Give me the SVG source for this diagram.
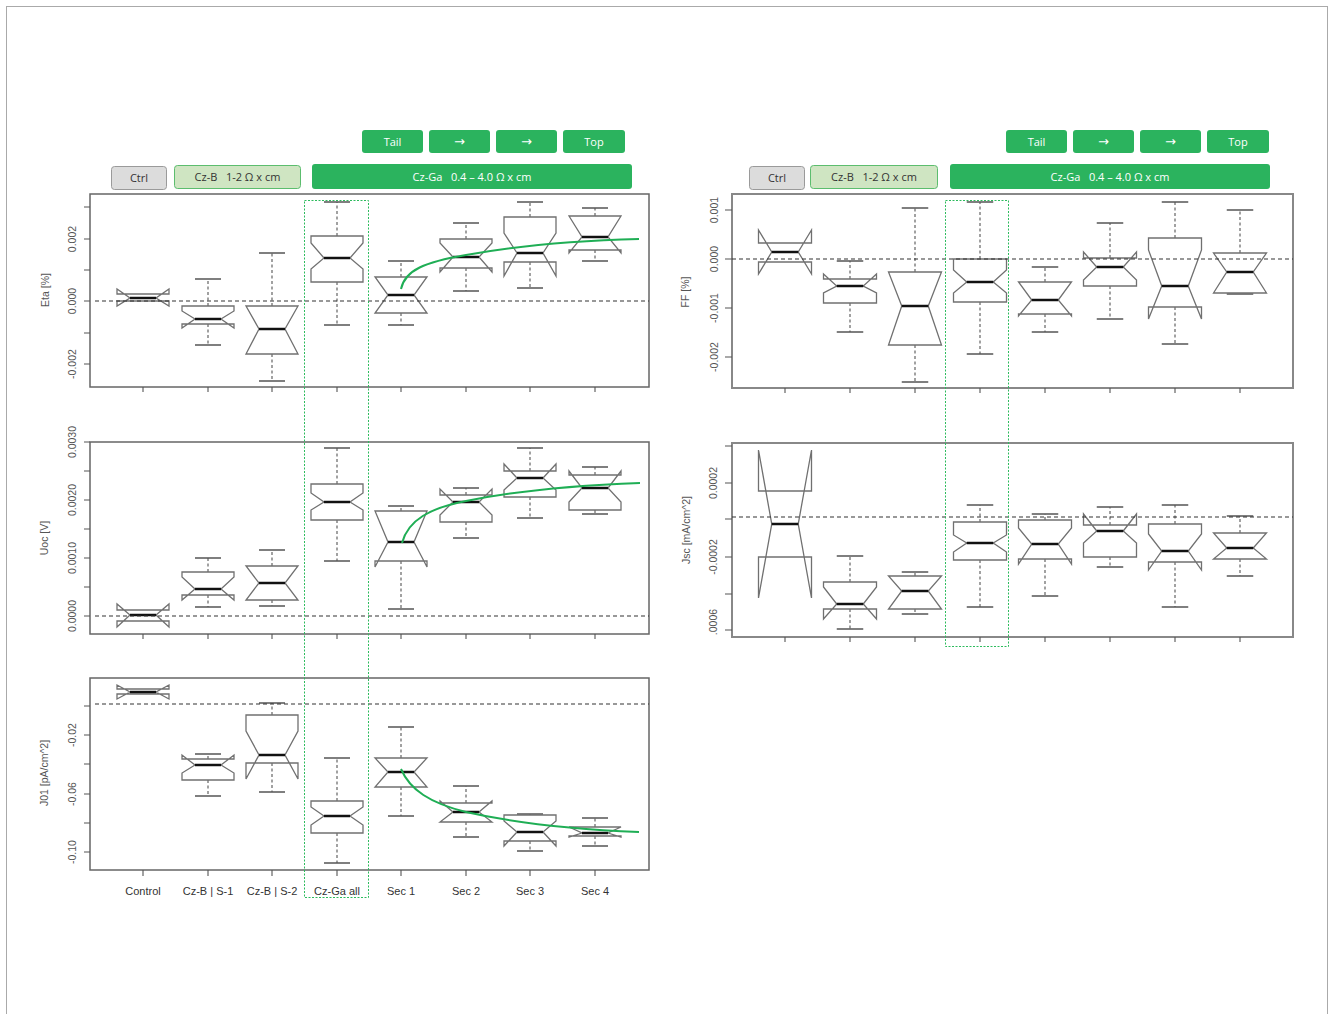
<svg xmlns="http://www.w3.org/2000/svg" width="1329" height="1014" viewBox="0 0 1329 1014">
<style>
.page{fill:#fff;stroke:#aaa;stroke-width:1}
.frame{fill:none;stroke:#666;stroke-width:1.5}
.frameR{fill:none;stroke:#888;stroke-width:2}
.box{fill:#fff;stroke:#707070;stroke-width:1.3}
.med{stroke:#111;stroke-width:2.5}
.wh{stroke:#555;stroke-width:1.1;stroke-dasharray:3 2.5;fill:none}
.cap{stroke:#555;stroke-width:1.3;fill:none}
.zero{stroke:#333;stroke-width:1.1;stroke-dasharray:4 3}
.tick{stroke:#555;stroke-width:1.1;fill:none}
.tl{font-family:"Liberation Sans",Arial,sans-serif;font-size:10.5px;fill:#555;text-anchor:middle}
.al{font-family:"Liberation Sans",Arial,sans-serif;font-size:10.5px;fill:#555;text-anchor:middle}
.xl{font-family:"Liberation Sans",Arial,sans-serif;font-size:11px;fill:#333;text-anchor:middle}
.trend{fill:none;stroke:#1fae55;stroke-width:2}
.hl{fill:none;stroke:#2dbb5d;stroke-width:1;stroke-dasharray:2 1.5}
.btn{fill:#2bb35e}
.ctrl{fill:#dcdcdc;stroke:#9a9a9a;stroke-width:1}
.czb{fill:#cfe5c2;stroke:#5cbd6e;stroke-width:1}
.bt{font-family:"Open Sans","Noto Sans",sans-serif;font-size:11px;fill:#fff;text-anchor:middle;white-space:pre}
.ar{font-family:"DejaVu Sans",sans-serif;font-size:13px;fill:#fff;text-anchor:middle}
.bd{font-family:"Open Sans","Noto Sans",sans-serif;font-size:11px;fill:#333;text-anchor:middle;white-space:pre}
</style>
<rect class="page" x="6.5" y="6.5" width="1321" height="1030"/>

<!-- headers -->
<g id="header-left">
<rect class="btn" x="362" y="130" width="61" height="23" rx="3"/><text class="bt" x="392.5" y="145.5">Tail</text>
<rect class="btn" x="429" y="130" width="61" height="23" rx="3"/><text class="ar" x="459.5" y="146">→</text>
<rect class="btn" x="496" y="130" width="61" height="23" rx="3"/><text class="ar" x="526.5" y="146">→</text>
<rect class="btn" x="563" y="130" width="62" height="23" rx="3"/><text class="bt" x="594" y="145.5">Top</text>
<rect class="ctrl" x="111.5" y="166.5" width="55" height="23" rx="3"/><text class="bd" x="139" y="182">Ctrl</text>
<rect class="czb" x="174.5" y="165.5" width="126" height="23" rx="3"/><text class="bd" x="237.5" y="181">Cz-B   1-2 Ω x cm</text>
<rect class="btn" x="312" y="164" width="320" height="25" rx="3"/><text class="bt" x="472" y="180.5">Cz-Ga   0.4 – 4.0 Ω x cm</text>
</g>
<g id="header-right">
<rect class="btn" x="1006" y="130" width="61" height="23" rx="3"/><text class="bt" x="1036.5" y="145.5">Tail</text>
<rect class="btn" x="1073" y="130" width="61" height="23" rx="3"/><text class="ar" x="1103.5" y="146">→</text>
<rect class="btn" x="1140" y="130" width="61" height="23" rx="3"/><text class="ar" x="1170.5" y="146">→</text>
<rect class="btn" x="1207" y="130" width="62" height="23" rx="3"/><text class="bt" x="1238" y="145.5">Top</text>
<rect class="ctrl" x="749.5" y="166.5" width="55" height="23" rx="3"/><text class="bd" x="777" y="182">Ctrl</text>
<rect class="czb" x="810.5" y="165.5" width="127" height="23" rx="3"/><text class="bd" x="874" y="181">Cz-B   1-2 Ω x cm</text>
<rect class="btn" x="950" y="164" width="320" height="25" rx="3"/><text class="bt" x="1110" y="180.5">Cz-Ga   0.4 – 4.0 Ω x cm</text>
</g>

<!-- Eta plot -->
<g id="plot-eta">
<rect class="frame" x="90" y="194" width="559" height="193"/>
<path class="tick" d="M84,207H90M84,239H90M84,270H90M84,301H90M84,333H90M84,364H90M143,387V392M208,387V392M272,387V392M337,387V392M401,387V392M466,387V392M530,387V392M595,387V392"/>
<text class="tl" transform="translate(76,239) rotate(-90)">0.002</text>
<text class="tl" transform="translate(76,301) rotate(-90)">0.000</text>
<text class="tl" transform="translate(76,364) rotate(-90)">-0.002</text>
<text class="al" transform="translate(49,290) rotate(-90)">Eta [%]</text>
<g id="eta-1"><polygon class="box" points="117,301 169,301 169,306 156,298 169,289 169,294 117,294 117,289 130,298 117,306"/><path class="med" d="M130,298H156"/></g>
<g id="eta-2"><path class="wh" d="M208,306V279M208,324V345"/><path class="cap" d="M195,279H221M195,345H221"/><polygon class="box" points="182,324 234,324 234,328 221,319 234,311 234,306 182,306 182,311 195,319 182,328"/><path class="med" d="M195,319H221"/></g>
<g id="eta-3"><path class="wh" d="M272,306V253M272,354V381"/><path class="cap" d="M259,253H285M259,381H285"/><polygon class="box" points="246,354 298,354 285,329 298,306 246,306 259,329"/><path class="med" d="M259,329H285"/></g>
<g id="eta-4"><path class="wh" d="M337,236V202M337,282V325"/><path class="cap" d="M324,202H350M324,325H350"/><polygon class="box" points="311,282 363,282 363,269 350,258 363,243 363,236 311,236 311,243 324,258 311,269"/><path class="med" d="M324,258H350"/></g>
<g id="eta-5"><path class="wh" d="M401,277V261M401,313V325"/><path class="cap" d="M388,261H414M388,325H414"/><polygon class="box" points="375,313 427,313 414,295 427,277 375,277 388,295"/><path class="med" d="M388,295H414"/></g>
<g id="eta-6"><path class="wh" d="M466,239V223M466,268V291"/><path class="cap" d="M453,223H479M453,291H479"/><polygon class="box" points="440,268 492,268 492,272 479,257 492,243 492,239 440,239 440,243 453,257 440,272"/><path class="med" d="M453,257H479"/></g>
<g id="eta-7"><path class="wh" d="M530,217V202M530,262V288"/><path class="cap" d="M517,202H543M517,288H543"/><polygon class="box" points="504,262 556,262 556,276 543,253 556,233 556,217 504,217 504,233 517,253 504,276"/><path class="med" d="M517,253H543"/></g>
<g id="eta-8"><path class="wh" d="M595,216V208M595,250V261"/><path class="cap" d="M582,208H608M582,261H608"/><polygon class="box" points="569,250 621,250 621,253 608,237 621,216 569,216 582,237 569,253"/><path class="med" d="M582,237H608"/></g>
<path class="zero" d="M95,301H649"/>
</g>

<!-- Uoc plot -->
<g id="plot-uoc">
<rect class="frame" x="90" y="442" width="559" height="192"/>
<path class="tick" d="M84,442H90M84,471H90M84,500H90M84,529H90M84,558H90M84,587H90M84,616H90M143,634V639M208,634V639M272,634V639M337,634V639M401,634V639M466,634V639M530,634V639M595,634V639"/>
<text class="tl" transform="translate(76,442) rotate(-90)">0.0030</text>
<text class="tl" transform="translate(76,500) rotate(-90)">0.0020</text>
<text class="tl" transform="translate(76,558) rotate(-90)">0.0010</text>
<text class="tl" transform="translate(76,616) rotate(-90)">0.0000</text>
<text class="al" transform="translate(48,538) rotate(-90)">Uoc [V]</text>
<g id="uoc-1"><polygon class="box" points="117,621 169,621 169,627 156,615 169,604 169,610 117,610 117,604 130,615 117,627"/><path class="med" d="M130,615H156"/></g>
<g id="uoc-2"><path class="wh" d="M208,572V558M208,595V607"/><path class="cap" d="M195,558H221M195,607H221"/><polygon class="box" points="182,595 234,595 234,600 221,589 234,577 234,572 182,572 182,577 195,589 182,600"/><path class="med" d="M195,589H221"/></g>
<g id="uoc-3"><path class="wh" d="M272,566V550M272,600V606"/><path class="cap" d="M259,550H285M259,606H285"/><polygon class="box" points="246,600 298,600 285,583 298,566 246,566 259,583"/><path class="med" d="M259,583H285"/></g>
<g id="uoc-4"><path class="wh" d="M337,484V448M337,520V561"/><path class="cap" d="M324,448H350M324,561H350"/><polygon class="box" points="311,520 363,520 363,510 350,502 363,493 363,484 311,484 311,493 324,502 311,510"/><path class="med" d="M324,502H350"/></g>
<g id="uoc-5"><path class="wh" d="M401,511V506M401,561V609"/><path class="cap" d="M388,506H414M388,609H414"/><polygon class="box" points="375,561 427,561 427,567 414,542 427,511 375,511 388,542 375,567"/><path class="med" d="M388,542H414"/></g>
<g id="uoc-6"><path class="wh" d="M466,495V488M466,522V538"/><path class="cap" d="M453,488H479M453,538H479"/><polygon class="box" points="440,522 492,522 492,515 479,502 492,489 492,495 440,495 440,489 453,502 440,515"/><path class="med" d="M453,502H479"/></g>
<g id="uoc-7"><path class="wh" d="M530,471V448M530,497V518"/><path class="cap" d="M517,448H543M517,518H543"/><polygon class="box" points="504,497 556,497 556,490 543,478 556,464 556,471 504,471 504,464 517,478 504,490"/><path class="med" d="M517,478H543"/></g>
<g id="uoc-8"><path class="wh" d="M595,475V467M595,510V514"/><path class="cap" d="M582,467H608M582,514H608"/><polygon class="box" points="569,510 621,510 621,502 608,488 621,471 621,475 569,475 569,471 582,488 569,502"/><path class="med" d="M582,488H608"/></g>
<path class="zero" d="M95,616H649"/>
</g>

<!-- J01 plot -->
<g id="plot-j01">
<rect class="frame" x="90" y="678" width="559" height="192"/>
<path class="tick" d="M84,706H90M84,735H90M84,764H90M84,794H90M84,823H90M84,852H90M143,870V876M208,870V876M272,870V876M337,870V876M401,870V876M466,870V876M530,870V876M595,870V876"/>
<text class="tl" transform="translate(76,735) rotate(-90)">-0.02</text>
<text class="tl" transform="translate(76,794) rotate(-90)">-0.06</text>
<text class="tl" transform="translate(76,852) rotate(-90)">-0.10</text>
<text class="al" transform="translate(48,773) rotate(-90)">J01 [pA/cm^2]</text>
<g id="j01-1"><polygon class="box" points="117,694 169,694 169,699 156,692 169,685 169,689 117,689 117,685 130,692 117,699"/><path class="med" d="M130,692H156"/></g>
<g id="j01-2"><path class="wh" d="M208,759V754M208,780V796"/><path class="cap" d="M195,754H221M195,796H221"/><polygon class="box" points="182,780 234,780 234,773 221,765 234,755 234,759 182,759 182,755 195,765 182,773"/><path class="med" d="M195,765H221"/></g>
<g id="j01-3"><path class="wh" d="M272,715V703M272,763V792"/><path class="cap" d="M259,703H285M259,792H285"/><polygon class="box" points="246,763 298,763 298,779 285,755 298,731 298,715 246,715 246,731 259,755 246,779"/><path class="med" d="M259,755H285"/></g>
<g id="j01-4"><path class="wh" d="M337,801V758M337,833V863"/><path class="cap" d="M324,758H350M324,863H350"/><polygon class="box" points="311,833 363,833 363,825 350,816 363,807 363,801 311,801 311,807 324,816 311,825"/><path class="med" d="M324,816H350"/></g>
<g id="j01-5"><path class="wh" d="M401,758V727M401,787V816"/><path class="cap" d="M388,727H414M388,816H414"/><polygon class="box" points="375,787 427,787 414,772 427,758 375,758 388,772"/><path class="med" d="M388,772H414"/></g>
<g id="j01-6"><path class="wh" d="M466,803V786M466,822V837"/><path class="cap" d="M453,786H479M453,837H479"/><polygon class="box" points="440,822 492,822 479,812 492,801 492,803 440,803 440,801 453,812"/><path class="med" d="M453,812H479"/></g>
<g id="j01-7"><path class="wh" d="M530,815V814M530,841V851"/><path class="cap" d="M517,814H543M517,851H543"/><polygon class="box" points="504,841 556,841 556,846 543,832 556,821 556,815 504,815 504,821 517,832 504,846"/><path class="med" d="M517,832H543"/></g>
<g id="j01-8"><path class="wh" d="M595,827V818M595,836V846"/><path class="cap" d="M582,818H608M582,846H608"/><polygon class="box" points="569,836 621,836 621,837 608,833 621,827 569,827 582,833 569,837"/><path class="med" d="M582,833H608"/></g>
<path class="zero" d="M95,704H649"/>
<text class="xl" x="143" y="895">Control</text>
<text class="xl" x="208" y="895">Cz-B | S-1</text>
<text class="xl" x="272" y="895">Cz-B | S-2</text>
<text class="xl" x="337" y="895">Cz-Ga all</text>
<text class="xl" x="401" y="895">Sec 1</text>
<text class="xl" x="466" y="895">Sec 2</text>
<text class="xl" x="530" y="895">Sec 3</text>
<text class="xl" x="595" y="895">Sec 4</text>
</g>

<!-- FF plot -->
<g id="plot-ff">
<rect class="frameR" x="732" y="194" width="561" height="194"/>
<path class="tick" d="M725,210H732M725,259H732M725,308H732M725,357H732M785,388V393M850,388V393M915,388V393M980,388V393M1045,388V393M1110,388V393M1175,388V393M1240,388V393"/>
<text class="tl" transform="translate(718,210) rotate(-90)">0.001</text>
<text class="tl" transform="translate(718,259) rotate(-90)">0.000</text>
<text class="tl" transform="translate(718,308) rotate(-90)">-0.001</text>
<text class="tl" transform="translate(718,357) rotate(-90)">-0.002</text>
<text class="al" transform="translate(689,292) rotate(-90)">FF [%]</text>
<g id="ff-1"><polygon class="box" points="758.5,262 811.5,262 811.5,274 798.25,252 811.5,230 811.5,243 758.5,243 758.5,230 771.75,252 758.5,274"/><path class="med" d="M771.75,252H798.25"/></g>
<g id="ff-2"><path class="wh" d="M850,279V261M850,303V332"/><path class="cap" d="M836.75,261H863.25M836.75,332H863.25"/><polygon class="box" points="823.5,303 876.5,303 876.5,293 863.25,286 876.5,274 876.5,279 823.5,279 823.5,274 836.75,286 823.5,293"/><path class="med" d="M836.75,286H863.25"/></g>
<g id="ff-3"><path class="wh" d="M915,272V208M915,345V382"/><path class="cap" d="M901.75,208H928.25M901.75,382H928.25"/><polygon class="box" points="888.5,345 941.5,345 928.25,306 941.5,272 888.5,272 901.75,306"/><path class="med" d="M901.75,306H928.25"/></g>
<g id="ff-4"><path class="wh" d="M980,259V202M980,302V354"/><path class="cap" d="M966.75,202H993.25M966.75,354H993.25"/><polygon class="box" points="953.5,302 1006.5,302 1006.5,293 993.25,282 1006.5,270 1006.5,259 953.5,259 953.5,270 966.75,282 953.5,293"/><path class="med" d="M966.75,282H993.25"/></g>
<g id="ff-5"><path class="wh" d="M1045,282V267M1045,314V332"/><path class="cap" d="M1031.75,267H1058.25M1031.75,332H1058.25"/><polygon class="box" points="1018.5,314 1071.5,314 1071.5,316 1058.25,300 1071.5,282 1018.5,282 1031.75,300 1018.5,316"/><path class="med" d="M1031.75,300H1058.25"/></g>
<g id="ff-6"><path class="wh" d="M1110,258V223M1110,286V319"/><path class="cap" d="M1096.75,223H1123.25M1096.75,319H1123.25"/><polygon class="box" points="1083.5,286 1136.5,286 1136.5,280 1123.25,267 1136.5,252 1136.5,258 1083.5,258 1083.5,252 1096.75,267 1083.5,280"/><path class="med" d="M1096.75,267H1123.25"/></g>
<g id="ff-7"><path class="wh" d="M1175,238V202M1175,307V344"/><path class="cap" d="M1161.75,202H1188.25M1161.75,344H1188.25"/><polygon class="box" points="1148.5,307 1201.5,307 1201.5,319 1188.25,286 1201.5,250 1201.5,238 1148.5,238 1148.5,250 1161.75,286 1148.5,319"/><path class="med" d="M1161.75,286H1188.25"/></g>
<g id="ff-8"><path class="wh" d="M1240,253V210"/><path class="cap" d="M1226.75,210H1253.25M1226.75,294H1253.25"/><polygon class="box" points="1213.5,293 1266.5,293 1253.25,272 1266.5,253 1213.5,253 1226.75,272"/><path class="med" d="M1226.75,272H1253.25"/></g>
<path class="zero" d="M732,259H1293"/>
</g>

<!-- Jsc plot -->
<g id="plot-jsc">
<rect class="frameR" x="732" y="443" width="561" height="194"/>
<path class="tick" d="M725,446H732M725,483H732M725,519H732M725,557H732M725,594H732M725,630H732M785,637V642M850,637V642M915,637V642M980,637V642M1045,637V642M1110,637V642M1175,637V642M1240,637V642"/>
<text class="tl" transform="translate(717,483) rotate(-90)">0.0002</text>
<text class="tl" transform="translate(717,557) rotate(-90)">-0.0002</text>
<text class="tl" transform="translate(717,622) rotate(-90)">.0006</text>
<text class="al" transform="translate(690,530) rotate(-90)">Jsc [mA/cm^2]</text>
<g id="jsc-1"><polygon class="box" points="758.5,557 811.5,557 811.5,598 798.25,524 811.5,450 811.5,491 758.5,491 758.5,450 771.75,524 758.5,598"/><path class="med" d="M771.75,524H798.25"/></g>
<g id="jsc-2"><path class="wh" d="M850,582V556M850,609V629"/><path class="cap" d="M836.75,556H863.25M836.75,629H863.25"/><polygon class="box" points="823.5,609 876.5,609 876.5,619 863.25,604 876.5,587 876.5,582 823.5,582 823.5,587 836.75,604 823.5,619"/><path class="med" d="M836.75,604H863.25"/></g>
<g id="jsc-3"><path class="wh" d="M915,576V572M915,609V614"/><path class="cap" d="M901.75,572H928.25M901.75,614H928.25"/><polygon class="box" points="888.5,609 941.5,609 928.25,591 941.5,576 888.5,576 901.75,591"/><path class="med" d="M901.75,591H928.25"/></g>
<g id="jsc-4"><path class="wh" d="M980,522V505M980,560V607"/><path class="cap" d="M966.75,505H993.25M966.75,607H993.25"/><polygon class="box" points="953.5,560 1006.5,560 1006.5,552 993.25,543 1006.5,535 1006.5,522 953.5,522 953.5,535 966.75,543 953.5,552"/><path class="med" d="M966.75,543H993.25"/></g>
<g id="jsc-5"><path class="wh" d="M1045,520V514M1045,559V596"/><path class="cap" d="M1031.75,514H1058.25M1031.75,596H1058.25"/><polygon class="box" points="1018.5,559 1071.5,559 1071.5,564 1058.25,544 1071.5,528 1071.5,520 1018.5,520 1018.5,528 1031.75,544 1018.5,564"/><path class="med" d="M1031.75,544H1058.25"/></g>
<g id="jsc-6"><path class="wh" d="M1110,525V507M1110,557V567"/><path class="cap" d="M1096.75,507H1123.25M1096.75,567H1123.25"/><polygon class="box" points="1083.5,557 1136.5,557 1136.5,543 1123.25,531 1136.5,514 1136.5,525 1083.5,525 1083.5,514 1096.75,531 1083.5,543"/><path class="med" d="M1096.75,531H1123.25"/></g>
<g id="jsc-7"><path class="wh" d="M1175,524V505M1175,562V607"/><path class="cap" d="M1161.75,505H1188.25M1161.75,607H1188.25"/><polygon class="box" points="1148.5,562 1201.5,562 1201.5,570 1188.25,551 1201.5,534 1201.5,524 1148.5,524 1148.5,534 1161.75,551 1148.5,570"/><path class="med" d="M1161.75,551H1188.25"/></g>
<g id="jsc-8"><path class="wh" d="M1240,533V516M1240,559V576"/><path class="cap" d="M1226.75,516H1253.25M1226.75,576H1253.25"/><polygon class="box" points="1213.5,559 1266.5,559 1253.25,548 1266.5,533 1213.5,533 1226.75,548"/><path class="med" d="M1226.75,548H1253.25"/></g>
<path class="zero" d="M732,517H1293"/>
</g>

<!-- highlight frames -->
<g id="highlight-left"><rect class="hl" x="304.5" y="200.5" width="64" height="697"/></g>
<g id="highlight-right"><rect class="hl" x="945.5" y="200.5" width="63" height="446"/></g>

<!-- trend curves -->
<g id="connectors">
<path class="trend" d="M401,289 C405,270 425,262 466,255 C510,247 560,241 639,239"/>
<path class="trend" d="M402,543 C408,520 430,508 466,501 C510,492 560,486 640,483"/>
<path class="trend" d="M401,769 C410,790 430,803 466,812 C510,822 560,829 639,832"/>
</g>
</svg>
